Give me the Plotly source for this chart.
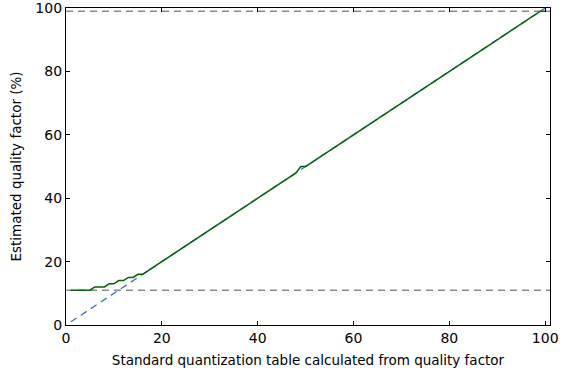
import plotly.graph_objects as go

quality = list(range(1, 101))
estimated = [11, 11, 11, 11, 11, 12, 12, 12, 13, 13,
             14, 14, 15, 15, 16, 16, 17] + list(range(18, 49)) + [50, 50] + list(range(51, 99)) + [99, 99]
identity = quality[:]
limit_x = [0, 101]
lower_limit = [11, 11]
upper_limit = [99, 99]

fig = go.Figure()
dash_gray = dict(color="#8c8c8c", width=1.5, dash="7px,5px")
fig.add_trace(go.Scatter(x=limit_x, y=lower_limit, mode="lines", line=dash_gray, showlegend=False))
fig.add_trace(go.Scatter(x=limit_x, y=upper_limit, mode="lines", line=dash_gray, showlegend=False))
fig.add_trace(go.Scatter(x=quality, y=identity, mode="lines",
                         line=dict(color="#4169e1", width=1.3, dash="7px,5px"), showlegend=False))
fig.add_trace(go.Scatter(x=quality, y=estimated, mode="lines",
                         line=dict(color="#006400", width=1.5), showlegend=False))

axis_common = dict(showline=True, linecolor="black", linewidth=1.3, mirror="allticks",
                   ticks="inside", ticklen=4, tickcolor="black", showgrid=False, zeroline=False,
                   tickfont=dict(size=14, color="black"), ticklabeloverflow="allow",
                   automargin=False)
fig.update_layout(
    width=566, height=375,
    margin=dict(l=66, r=16, t=8, b=50),
    plot_bgcolor="white", paper_bgcolor="white",
    font=dict(family="DejaVu Sans", size=13.5, color="black"),
    xaxis=dict(range=[0, 101], tickvals=[0, 20, 40, 60, 80, 100],
               title=dict(text="Standard quantization table calculated from quality factor",
                          font=dict(size=13.5), standoff=10), **axis_common),
    yaxis=dict(range=[0, 100], tickvals=[0, 20, 40, 60, 80, 100],
               title=dict(text="Estimated quality factor (%)", font=dict(size=13.5), standoff=10),
               **axis_common),
)
fig.write_html("out.html")
